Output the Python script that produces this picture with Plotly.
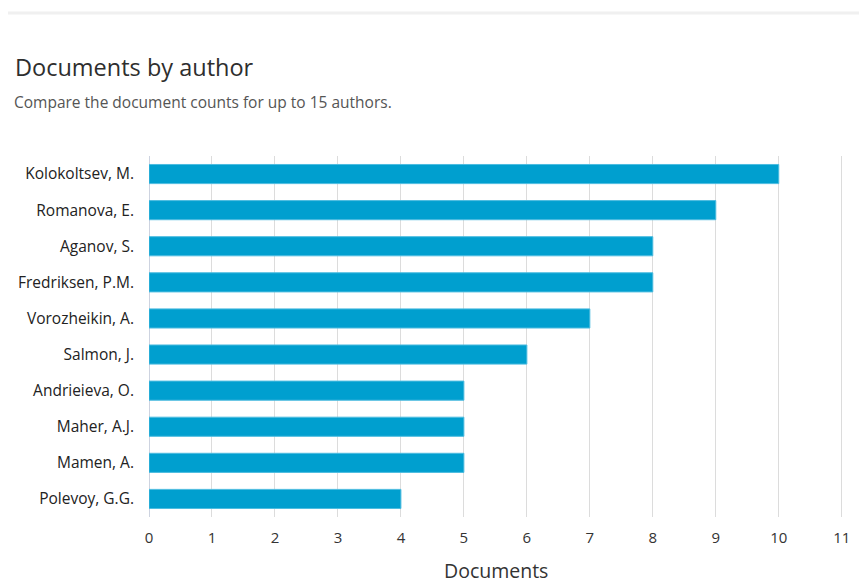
import plotly.graph_objects as go

authors = ["Kolokoltsev, M.", "Romanova, E.", "Aganov, S.", "Fredriksen, P.M.",
           "Vorozheikin, A.", "Salmon, J.", "Andrieieva, O.", "Maher, A.J.",
           "Mamen, A.", "Polevoy, G.G."]
documents = [10, 9, 8, 8, 7, 6, 5, 5, 5, 4]
x_ticks = list(range(0, 12))

FONT = "Open Sans"
PW, PH = 694, 361
W, H = 859, 576  # page body has an 8px margin

fig = go.Figure()
fig.add_trace(go.Bar(
    x=documents, y=authors, orientation="h",
    marker=dict(color="#009FCF", line=dict(color="#4DBCE0", width=1)),
    width=0.53,
    hoverinfo="x+y",
))

fig.update_layout(
    width=W, height=H,
    paper_bgcolor="white", plot_bgcolor="white",
    margin=dict(l=141, r=W - 141 - PW, t=148, b=H - 148 - PH, autoexpand=False),
    showlegend=False,
    font=dict(family=FONT, color="#333333", size=15),
    title=dict(text="Documents by author", x=7/W, xanchor="left", xref="container",
               y=1 - 60/H, yanchor="middle", yref="container",
               font=dict(family=FONT, size=23.5, color="#2e2e2e")),
    xaxis=dict(range=[0, 11.02], tickvals=x_ticks, showgrid=True,
               gridcolor="#dcdcdc", gridwidth=1, zeroline=True,
               zerolinecolor="#cdd3e0", zerolinewidth=1,
               ticks="", ticklabelstandoff=10, tickfont=dict(size=15, color="#333333"),
               automargin=False, fixedrange=True),
    yaxis=dict(categoryorder="array", categoryarray=authors[::-1],
               ticks="", ticklabelstandoff=14, tickfont=dict(size=15.5, color="#222222"),
               showgrid=False, automargin=False, fixedrange=True),
)

fig.add_annotation(text="Documents", xref="paper", yref="paper", x=0.5, y=-53/PH,
                   xanchor="center", yanchor="middle", showarrow=False,
                   font=dict(family=FONT, size=19.5, color="#333333"))

fig.add_annotation(text="Compare the document counts for up to 15 authors.",
                   xref="paper", yref="paper", x=-137/PW, y=1 + 54/PH,
                   xanchor="left", yanchor="middle", showarrow=False,
                   font=dict(family=FONT, size=15.5, color="#555555"))

fig.add_shape(type="line", xref="paper", yref="paper",
              x0=-142/PW, x1=1 + 19/PW, y0=1 + 143/PH, y1=1 + 143/PH,
              line=dict(color="#f0f0f0", width=3))

fig.write_html("out.html")
